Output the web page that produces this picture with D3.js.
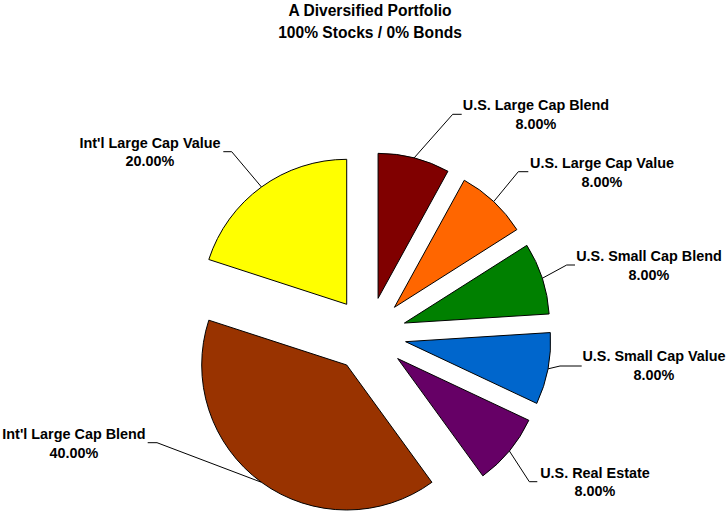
<!DOCTYPE html>
<html><head><meta charset="utf-8">
<script src="https://cdn.jsdelivr.net/npm/d3@7"></script>
<style>body{margin:0;background:#fff}svg{display:block}text{font-family:"Liberation Sans",Arial,sans-serif;font-weight:bold;fill:#000}</style>
</head><body>
<script>
const categories = ["U.S. Large Cap Blend","U.S. Large Cap Value","U.S. Small Cap Blend","U.S. Small Cap Value","U.S. Real Estate","Int'l Large Cap Blend","Int'l Large Cap Value"];
const values = [8,8,8,8,8,40,20];
const valueLabels = ["8.00%","8.00%","8.00%","8.00%","8.00%","40.00%","20.00%"];
const colors = ["#800000","#FF6600","#008000","#0066CC","#660066","#993300","#FFFF00"];
const titleLines = ["A Diversified Portfolio","100% Stocks / 0% Bonds"];
// label layout: text center x, first line center y, elbow point, horizontal end point
const labelLayout = [
  {tx:536, ty:105, elbow:[452.7,114.3], end:[461.7,114.3]},
  {tx:602, ty:163, elbow:[518.3,171.7], end:[528.3,171.7]},
  {tx:649, ty:256, elbow:[566.7,265], end:[575,265]},
  {tx:654, ty:356, elbow:[560,366], end:[581.7,366]},
  {tx:595, ty:472.5, elbow:[529.3,481.7], end:[537.3,481.7]},
  {tx:74, ty:434, elbow:[157,442.7], end:[147.7,442.7]},
  {tx:150, ty:142.7, elbow:[231.7,151.7], end:[223.3,151.7]}
];

const W=728,H=516, cx=368.75, cy=334.65, R=145, explode=37.5;
const svg=d3.select("body").append("svg").attr("width",W).attr("height",H);

svg.selectAll("text.title").data(titleLines).join("text").attr("class","title")
  .attr("x",370).attr("y",(d,i)=>11+i*21.5).attr("dy","0.35em")
  .attr("text-anchor","middle").style("font-size","15.6px").text(d=>d);

const pie=d3.pie().sort(null).value(d=>d.v);
const data=pie(categories.map((c,i)=>({c,v:values[i],l:valueLabels[i],col:colors[i],lay:labelLayout[i]})));
const arc=d3.arc().innerRadius(0).outerRadius(R);

const g=svg.append("g").attr("transform",`translate(${cx},${cy})`);
data.forEach(d=>{
  const m=(d.startAngle+d.endAngle)/2;
  d.ox=Math.sin(m)*explode; d.oy=-Math.cos(m)*explode;
  d.ax=Math.sin(m)*(R+explode)+cx; d.ay=-Math.cos(m)*(R+explode)+cy;
});
g.selectAll("path").data(data).join("path")
  .attr("transform",d=>`translate(${d.ox},${d.oy})`)
  .attr("d",arc).attr("fill",d=>d.data.col).attr("stroke","#000").attr("stroke-width",1);

svg.selectAll("polyline").data(data).join("polyline")
  .attr("points",d=>[[d.ax,d.ay],d.data.lay.elbow,d.data.lay.end].map(p=>p.join(",")).join(" "))
  .attr("fill","none").attr("stroke","#000").attr("stroke-width",1);

const lbl=svg.selectAll("g.lbl").data(data).join("g").attr("class","lbl");
lbl.append("text").attr("x",d=>d.data.lay.tx).attr("y",d=>d.data.lay.ty).attr("dy","0.35em")
  .attr("text-anchor","middle").style("font-size","14.4px").text(d=>d.data.c);
lbl.append("text").attr("x",d=>d.data.lay.tx).attr("y",d=>d.data.lay.ty+18.5).attr("dy","0.35em")
  .attr("text-anchor","middle").style("font-size","14.4px").text(d=>d.data.l);
</script>
</body></html>
